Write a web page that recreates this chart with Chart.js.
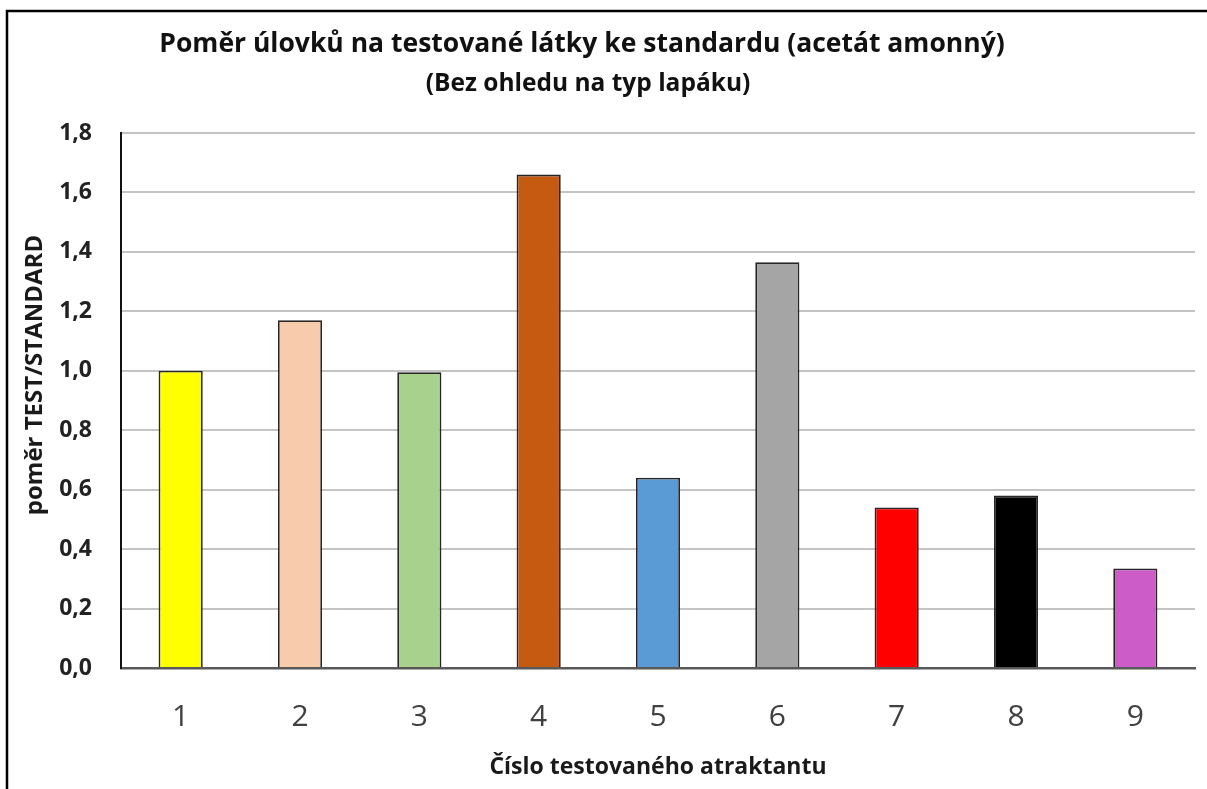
<!DOCTYPE html>
<html>
<head>
<meta charset="utf-8">
<script src="https://cdn.jsdelivr.net/npm/chart.js@4"></script>
<style>
  html, body { margin: 0; padding: 0; background: #ffffff; }
  #wrap { width: 1207px; height: 789px; position: relative; }
</style>
</head>
<body>
<div id="wrap"><canvas id="c" width="1207" height="789"></canvas></div>
<script>
const categories = ['1', '2', '3', '4', '5', '6', '7', '8', '9'];
const ratioValues = [1.0, 1.17, 0.995, 1.66, 0.64, 1.365, 0.54, 0.58, 0.335];
const barColors = ['#FFFF00', '#F8CBAD', '#A9D18E', '#C55A11', '#5B9BD5', '#A5A5A5', '#FF0000', '#000000', '#CC5CC8'];
const yMin = 0;
const yMax = 1.8;
const yStep = 0.2;
const titleText = 'Poměr úlovků na testované látky ke standardu (acetát amonný)';
const subtitleText = '(Bez ohledu na typ lapáku)';
const xTitleText = 'Číslo testovaného atraktantu';
const yTitleText = 'poměr TEST/STANDARD';

const FONT = '"Open Sans", Lato, sans-serif';

const decorPlugin = {
  id: 'decor',
  beforeDraw(chart) {
    const ctx = chart.ctx;
    ctx.save();
    ctx.fillStyle = '#ffffff';
    ctx.fillRect(0, 0, chart.width, chart.height);
    ctx.restore();
  },
  afterDraw(chart) {
    const ctx = chart.ctx;
    ctx.save();
    ctx.strokeStyle = '#000000';
    ctx.lineWidth = 2.5;
    ctx.beginPath();
    ctx.moveTo(7, chart.height);
    ctx.lineTo(7, 11);
    ctx.lineTo(chart.width, 11);
    ctx.stroke();

    ctx.fillStyle = '#111111';
    ctx.textAlign = 'center';
    ctx.textBaseline = 'middle';
    ctx.font = 'bold 26.5px ' + FONT;
    ctx.fillText(titleText, 582, 44);
    ctx.font = 'bold 24.5px ' + FONT;
    ctx.fillText(subtitleText, 588, 84);

    ctx.translate(35, 375);
    ctx.rotate(-Math.PI / 2);
    ctx.font = 'bold 24px ' + FONT;
    ctx.fillStyle = '#1a1a1a';
    ctx.fillText(yTitleText, 0, 0);
    ctx.restore();
  }
};

new Chart(document.getElementById('c'), {
  type: 'bar',
  data: {
    labels: categories,
    datasets: [{
      data: ratioValues,
      backgroundColor: barColors,
      borderColor: '#262626',
      borderWidth: 1.8,
      barPercentage: 0.37,
      categoryPercentage: 1.0
    }]
  },
  options: {
    responsive: false,
    animation: false,
    devicePixelRatio: 1,
    layout: { padding: { left: 0, right: 12, top: 133, bottom: 0 } },
    plugins: {
      legend: { display: false },
      title: { display: false },
      tooltip: { enabled: false }
    },
    scales: {
      x: {
        offset: true,
        grid: { display: false, drawTicks: false },
        border: { display: true, color: '#595959', width: 2.5 },
        ticks: {
          color: '#404040',
          padding: 31,
          font: { family: FONT, size: 30, weight: 'normal' }
        },
        title: {
          display: true,
          text: xTitleText,
          color: '#1a1a1a',
          font: { family: FONT, size: 23, weight: 'bold' },
          padding: { top: 0, bottom: 8 }
        },
        afterFit(scale) { scale.height = 121; }
      },
      y: {
        min: yMin,
        max: yMax,
        grid: {
          drawTicks: false,
          lineWidth: 2,
          color(ctx) { return ctx.tick && ctx.tick.value === 0 ? 'rgba(0,0,0,0)' : '#c4c4c4'; }
        },
        border: { display: true, color: '#111111', width: 2 },
        ticks: {
          stepSize: yStep,
          color: '#222222',
          padding: 29,
          font: { family: FONT, size: 23, weight: 'bold' },
          callback(v) { return Number(v).toFixed(1).replace('.', ','); }
        },
        afterFit(scale) { scale.width = 121; }
      }
    }
  },
  plugins: [decorPlugin]
});
</script>
</body>
</html>
